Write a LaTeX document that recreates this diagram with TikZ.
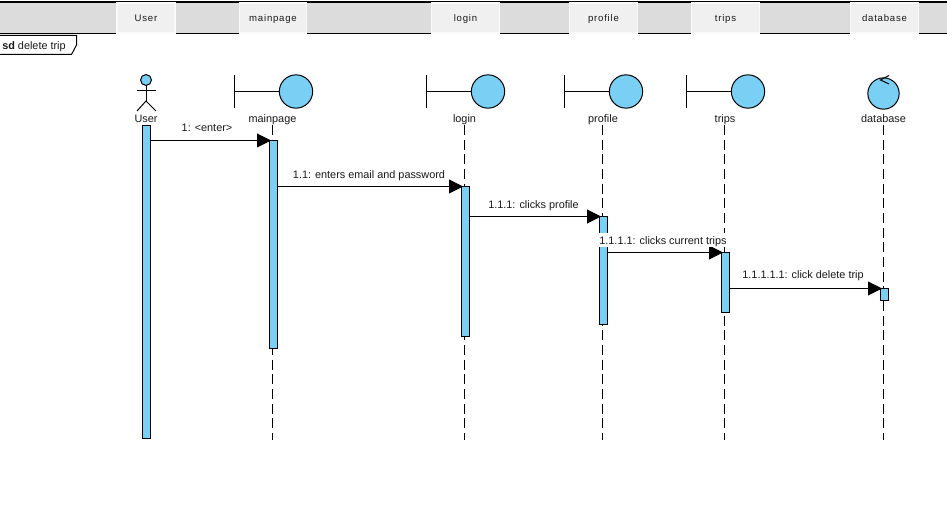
\documentclass[tikz,border=0pt]{standalone}
\usepackage{fontspec}
\setmainfont{Liberation Sans}
\usetikzlibrary{arrows.meta}
\definecolor{fillblue}{HTML}{7ACFF5}
\definecolor{tabbar}{HTML}{DCDCDC}
\definecolor{tabface}{HTML}{F0F0F0}
\definecolor{tabedge}{HTML}{FAFAFA}
\tikzset{
  x=0.75pt,y=-0.75pt,
  lbl/.style={font=\fontsize{8.15}{9}\selectfont,inner sep=0pt,text=black!90,text height=7.2pt,text depth=1pt},
  msglbl/.style={lbl,fill=white,inner xsep=1pt,inner ysep=1pt},
  tabbox/.style={draw=tabedge,fill=tabface,line width=0.8pt,minimum width=50.5pt,minimum height=22.5pt,inner sep=0pt,text height=6.8pt,text depth=0.9pt,font=\fontsize{7.2}{9}\selectfont\addfontfeatures{LetterSpace=8},text=black!90},
  bar/.style={draw=black,fill=fillblue,line width=0.75pt,minimum width=6pt,inner sep=0pt,anchor=north},
  msg/.style={draw=black,line width=0.75pt,shorten >=-1.5pt,-{Triangle[length=10.5pt,width=10.5pt,fill=black]}},
  life/.style={draw=black,line width=0.75pt,dash pattern=on 7.5pt off 3.5pt},
  ball/.style={circle,draw=black,fill=fillblue,line width=0.75pt,inner sep=0pt},
  stroke/.style={draw=black,line width=0.75pt}
}
\begin{document}
\begin{tikzpicture}
\useasboundingbox (0,0) rectangle (947,506);
\fill[white] (0,0) rectangle (947,506);
% header
\fill[tabbar] (0,2) rectangle (947,33);
\draw[black,line width=0.9pt] (0,2) -- (947,2);
\draw[black,line width=0.9pt] (0,33.5) -- (947,33.5);
\node[tabbox,minimum width=43.5pt] (tabUser) at (146,18) {User};
\node[tabbox] (tabMain) at (273,18) {mainpage};
\node[tabbox] (tabLogin) at (465.5,18) {login};
\node[tabbox] (tabProfile) at (603.5,18) {profile};
\node[tabbox] (tabTrips) at (725.5,18) {trips};
\node[tabbox] (tabDb) at (884.5,18) {database};
% frame
\draw[stroke,fill=white] (-2,35.5) -- (76.5,35.5) -- (76.5,45) -- (71.5,54.5) -- (-2,54.5);
\node[lbl,anchor=west] (sdLabel) at (2,45) {\textbf{sd} delete trip};
% actor
\node[ball,minimum size=8.2pt] (userHead) at (146,80) {};
\draw[stroke] (userHead.south) -- (146,101) coordinate (hip);
\draw[stroke] (137,91) -- (156,91);
\draw[stroke] (137,111) -- (hip) -- (156,111);
% boundaries
\foreach \nm/\bx/\cx in {Main/234.5/296,Login/426.5/488,Profile/564.5/626,Trips/686.5/748}{
  \node[ball,minimum size=25pt] (ball\nm) at (\cx,91.5) {};
  \draw[stroke] (\bx,75) -- (\bx,108);
  \draw[stroke] (\bx,91.5) -- (ball\nm.west);
}
% control
\node[ball,minimum size=23.5pt] (ballDb) at (883.5,93.5) {};
\draw[stroke] (889,75.5) -- (880.5,80) -- (889,84);
% labels
\node[lbl] (nUser) at (146,118) {User};
\node[lbl] (nMain) at (272.5,118) {mainpage};
\node[lbl] (nLogin) at (464.5,118) {login};
\node[lbl] (nProfile) at (603,118) {profile};
\node[lbl] (nTrips) at (725,118) {trips};
\node[lbl] (nDb) at (883.5,118) {database};
% lifelines
\coordinate (endMain) at (272.5,440);
\coordinate (endLogin) at (464.5,440);
\coordinate (endProfile) at (602.5,440);
\coordinate (endTrips) at (724.5,440);
\coordinate (endDb) at (883.5,440);
\draw[life] (272.5,125) -- (endMain);
\draw[life] (464.5,125) -- (endLogin);
\draw[life] (602.5,125) -- (endProfile);
\draw[life] (724.5,125) -- (endTrips);
\draw[life] (883.5,125) -- (endDb);
% activations
\node[bar,minimum height=234.5pt] (aUser) at (146.5,125.5) {};
\node[bar,minimum height=155.5pt] (aMain) at (273.5,140.5) {};
\node[bar,minimum height=112pt] (aLogin) at (465.5,186.5) {};
\node[bar,minimum height=81pt] (aProfile) at (603.5,216.5) {};
\node[bar,minimum height=45pt] (aTrips) at (725.5,252.5) {};
\node[bar,minimum height=9pt] (aDb) at (884.5,288.5) {};
% messages
\draw[msg] (aUser.east |- aMain.north) -- (aMain.north west);
\draw[msg] (aMain.east |- aLogin.north) -- (aLogin.north west);
\draw[msg] (aLogin.east |- aProfile.north) -- (aProfile.north west);
\draw[msg] (aProfile.east |- aTrips.north) -- (aTrips.north west);
\draw[msg] (aTrips.east |- aDb.north) -- (aDb.north west);
\node[msglbl] (m1) at (207,127.5) {1: <enter>};
\node[msglbl] (m2) at (369,174) {1.1: enters email and password};
\node[msglbl] (m3) at (533.5,204) {1.1.1: clicks profile};
\node[msglbl] (m4) at (663,240) {1.1.1.1: clicks current trips};
\node[msglbl] (m5) at (803,274) {1.1.1.1.1: click delete trip};
\end{tikzpicture}
\end{document}
